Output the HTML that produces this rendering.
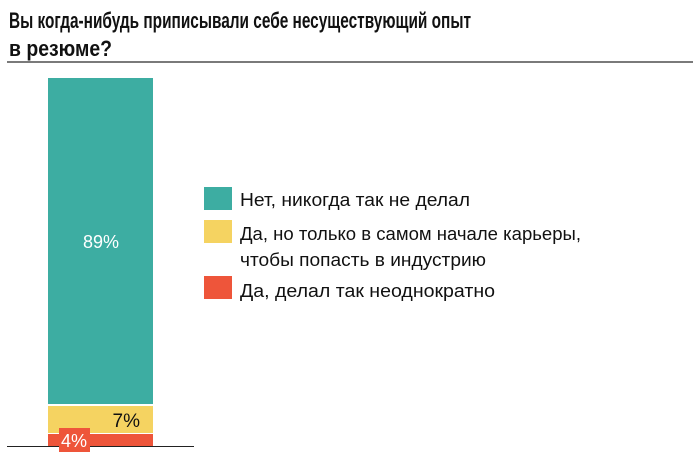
<!DOCTYPE html>
<html><head><meta charset="utf-8"><style>
html,body{margin:0;padding:0;background:#fff;}
svg{display:block;}
</style></head><body>
<svg width="700" height="458" xmlns="http://www.w3.org/2000/svg" font-family="'Liberation Sans', sans-serif">
<text x="9" y="28" font-size="22" font-weight="bold" fill="#111" textLength="462" lengthAdjust="spacingAndGlyphs">Вы когда-нибудь приписывали себе несуществующий опыт</text>
<text x="9" y="56" font-size="22" font-weight="bold" fill="#111" textLength="103" lengthAdjust="spacingAndGlyphs">в резюме?</text>
<rect x="7" y="61" width="686" height="2" fill="#7a7a7a"/>
<rect x="48" y="78" width="105" height="326" fill="#3dada2"/>
<rect x="48" y="406" width="105" height="27" fill="#f5d361"/>
<rect x="48" y="434" width="105" height="12" fill="#ee553a"/>
<rect x="7" y="446" width="187" height="1" fill="#222"/>
<rect x="59" y="428" width="31" height="24" fill="#ee553a"/>
<text x="101" y="248" font-size="18" fill="#fff" text-anchor="middle">89%</text>
<text x="140" y="427" font-size="19" fill="#111" text-anchor="end">7%</text>
<text x="74" y="447" font-size="18" fill="#fff" text-anchor="middle">4%</text>
<rect x="204" y="187" width="28" height="23" fill="#3dada2"/>
<rect x="204" y="220" width="28" height="23" fill="#f5d361"/>
<rect x="204" y="276" width="28" height="23" fill="#ee553a"/>
<g font-size="18" fill="#111">
<text x="240" y="206" textLength="230" lengthAdjust="spacingAndGlyphs">Нет, никогда так не делал</text>
<text x="240" y="240" textLength="341" lengthAdjust="spacingAndGlyphs">Да, но только в самом начале карьеры,</text>
<text x="240" y="266" textLength="246" lengthAdjust="spacingAndGlyphs">чтобы попасть в индустрию</text>
<text x="240" y="297" textLength="255" lengthAdjust="spacingAndGlyphs">Да, делал так неоднократно</text>
</g>
</svg>
</body></html>
